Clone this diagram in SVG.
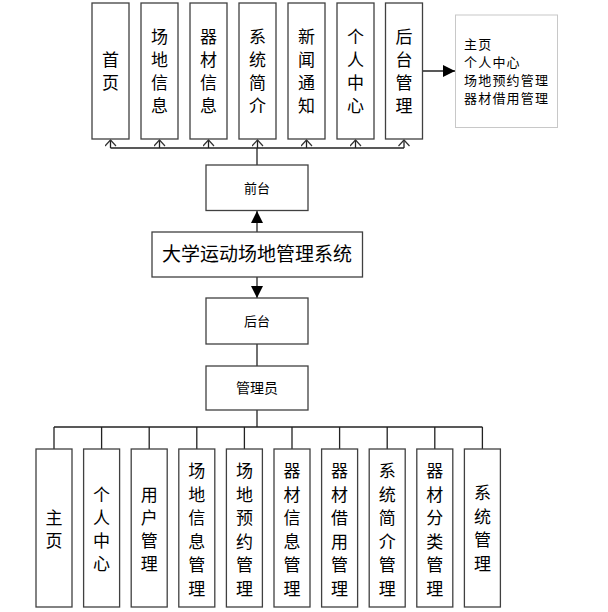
<svg xmlns="http://www.w3.org/2000/svg" width="608" height="612" viewBox="0 0 608 612">
<defs>
<style>
.b{fill:#fff;stroke:#404040;stroke-width:1.3}
.t{font-family:"Noto Sans CJK SC",sans-serif;fill:#000;text-anchor:middle}
.v{font-size:17px}
.c{stroke:#222;stroke-width:1.3;fill:none}
</style>
<marker id="open" markerWidth="10" markerHeight="12" refX="9" refY="6" orient="auto" markerUnits="userSpaceOnUse" viewBox="0 0 10 12">
<path d="M3,0.5 L9,6 L3,11.5" fill="none" stroke="#333" stroke-width="1.2"/>
</marker>
<marker id="fill" markerWidth="14" markerHeight="14" refX="12" refY="6" orient="auto" markerUnits="userSpaceOnUse" viewBox="0 0 14 12">
<path d="M0,0 L12,6 L0,12 Z" fill="#000"/>
</marker>
</defs>
<rect width="608" height="612" fill="#fff"/>
<g id="connectors">
<path class="c" d="M110.5,148 H404"/>
<path class="c" d="M110.5,148 V140" marker-end="url(#open)"/>
<path class="c" d="M159.5,148 V140" marker-end="url(#open)"/>
<path class="c" d="M208.5,148 V140" marker-end="url(#open)"/>
<path class="c" d="M257.5,148 V140" marker-end="url(#open)"/>
<path class="c" d="M306.5,148 V140" marker-end="url(#open)"/>
<path class="c" d="M355.5,148 V140" marker-end="url(#open)"/>
<path class="c" d="M404,148 V140" marker-end="url(#open)"/>
<path class="c" d="M257,148 V165" stroke-width="2"/>
<path class="c" d="M422,71 H455" marker-end="url(#fill)"/>
<path class="c" d="M257,232 V211" marker-end="url(#fill)"/>
<path class="c" d="M257,277 V298" marker-end="url(#fill)"/>
<path class="c" d="M257,344 V366"/>
<path class="c" d="M257,410 V427"/>
<path class="c" d="M54,427 H482.4"/>
<path class="c" d="M54,427 V449 M101.6,427 V449 M149.2,427 V449 M196.8,427 V449 M244.4,427 V449 M292,427 V449 M339.6,427 V449 M387.2,427 V449 M434.8,427 V449 M482.4,427 V449"/>
</g>
<g id="n-shouye"><rect class="b" x="92" y="3" width="37" height="136"/><text class="t v" x="110.5"><tspan x="110.5" y="66">首</tspan><tspan x="110.5" y="89">页</tspan></text></g>
<g id="n-cdxx"><rect class="b" x="141" y="3" width="37" height="136"/><text class="t v"><tspan x="159.5" y="43">场</tspan><tspan x="159.5" y="66">地</tspan><tspan x="159.5" y="89">信</tspan><tspan x="159.5" y="112">息</tspan></text></g>
<g id="n-qcxx"><rect class="b" x="190" y="3" width="37" height="136"/><text class="t v"><tspan x="208.5" y="43">器</tspan><tspan x="208.5" y="66">材</tspan><tspan x="208.5" y="89">信</tspan><tspan x="208.5" y="112">息</tspan></text></g>
<g id="n-xtjj"><rect class="b" x="239" y="3" width="37" height="136"/><text class="t v"><tspan x="257.5" y="43">系</tspan><tspan x="257.5" y="66">统</tspan><tspan x="257.5" y="89">简</tspan><tspan x="257.5" y="112">介</tspan></text></g>
<g id="n-xwtz"><rect class="b" x="288" y="3" width="37" height="136"/><text class="t v"><tspan x="306.5" y="43">新</tspan><tspan x="306.5" y="66">闻</tspan><tspan x="306.5" y="89">通</tspan><tspan x="306.5" y="112">知</tspan></text></g>
<g id="n-grzx"><rect class="b" x="337" y="3" width="37" height="136"/><text class="t v"><tspan x="355.5" y="43">个</tspan><tspan x="355.5" y="66">人</tspan><tspan x="355.5" y="89">中</tspan><tspan x="355.5" y="112">心</tspan></text></g>
<g id="n-htgl"><rect class="b" x="385.5" y="3" width="37" height="136"/><text class="t v"><tspan x="404" y="43">后</tspan><tspan x="404" y="66">台</tspan><tspan x="404" y="89">管</tspan><tspan x="404" y="112">理</tspan></text></g>
<g id="n-note"><rect x="455.5" y="15" width="102" height="112.5" fill="#fff" stroke="#c8c8c8" stroke-width="1"/><text class="t" style="font-size:13px;text-anchor:start;letter-spacing:1.2px"><tspan x="464" y="49">主页</tspan><tspan x="464" y="67">个人中心</tspan><tspan x="464" y="85">场地预约管理</tspan><tspan x="464" y="103">器材借用管理</tspan></text></g>
<g id="n-qiantai"><rect class="b" x="206" y="165" width="102" height="45.5"/><text class="t" x="257" y="193" style="font-size:13px">前台</text></g>
<g id="n-main"><rect class="b" x="152" y="232" width="210.5" height="45"/><text class="t" x="257" y="261" style="font-size:19px">大学运动场地管理系统</text></g>
<g id="n-houtai"><rect class="b" x="206" y="298" width="102" height="46"/><text class="t" x="257" y="326" style="font-size:13px">后台</text></g>
<g id="n-admin"><rect class="b" x="206" y="366" width="102" height="44"/><text class="t" x="257" y="393" style="font-size:14px">管理员</text></g>
<g id="b-zhuye"><rect class="b" x="36" y="449" width="36" height="158"/><text class="t v"><tspan x="54" y="524">主</tspan><tspan x="54" y="547">页</tspan></text></g>
<g id="b-grzx"><rect class="b" x="83.6" y="449" width="36" height="158"/><text class="t v"><tspan x="101.6" y="501">个</tspan><tspan x="101.6" y="524">人</tspan><tspan x="101.6" y="547">中</tspan><tspan x="101.6" y="570">心</tspan></text></g>
<g id="b-yhgl"><rect class="b" x="131.2" y="449" width="36" height="158"/><text class="t v"><tspan x="149.2" y="501">用</tspan><tspan x="149.2" y="524">户</tspan><tspan x="149.2" y="547">管</tspan><tspan x="149.2" y="570">理</tspan></text></g>
<g id="b-cdxx"><rect class="b" x="178.8" y="449" width="36" height="158"/><text class="t v"><tspan x="196.8" y="477">场</tspan><tspan x="196.8" y="500.5">地</tspan><tspan x="196.8" y="524">信</tspan><tspan x="196.8" y="547.5">息</tspan><tspan x="196.8" y="571">管</tspan><tspan x="196.8" y="594.5">理</tspan></text></g>
<g id="b-cdyy"><rect class="b" x="226.4" y="449" width="36" height="158"/><text class="t v"><tspan x="244.4" y="477">场</tspan><tspan x="244.4" y="500.5">地</tspan><tspan x="244.4" y="524">预</tspan><tspan x="244.4" y="547.5">约</tspan><tspan x="244.4" y="571">管</tspan><tspan x="244.4" y="594.5">理</tspan></text></g>
<g id="b-qcxx"><rect class="b" x="274" y="449" width="36" height="158"/><text class="t v"><tspan x="292" y="477">器</tspan><tspan x="292" y="500.5">材</tspan><tspan x="292" y="524">信</tspan><tspan x="292" y="547.5">息</tspan><tspan x="292" y="571">管</tspan><tspan x="292" y="594.5">理</tspan></text></g>
<g id="b-qcjy"><rect class="b" x="321.6" y="449" width="36" height="158"/><text class="t v"><tspan x="339.6" y="477">器</tspan><tspan x="339.6" y="500.5">材</tspan><tspan x="339.6" y="524">借</tspan><tspan x="339.6" y="547.5">用</tspan><tspan x="339.6" y="571">管</tspan><tspan x="339.6" y="594.5">理</tspan></text></g>
<g id="b-xtjj"><rect class="b" x="369.2" y="449" width="36" height="158"/><text class="t v"><tspan x="387.2" y="477">系</tspan><tspan x="387.2" y="500.5">统</tspan><tspan x="387.2" y="524">简</tspan><tspan x="387.2" y="547.5">介</tspan><tspan x="387.2" y="571">管</tspan><tspan x="387.2" y="594.5">理</tspan></text></g>
<g id="b-qcfl"><rect class="b" x="416.8" y="449" width="36" height="158"/><text class="t v"><tspan x="434.8" y="477">器</tspan><tspan x="434.8" y="500.5">材</tspan><tspan x="434.8" y="524">分</tspan><tspan x="434.8" y="547.5">类</tspan><tspan x="434.8" y="571">管</tspan><tspan x="434.8" y="594.5">理</tspan></text></g>
<g id="b-xtgl"><rect class="b" x="464.4" y="449" width="36" height="158"/><text class="t v"><tspan x="482.4" y="499">系</tspan><tspan x="482.4" y="522.5">统</tspan><tspan x="482.4" y="546">管</tspan><tspan x="482.4" y="569.5">理</tspan></text></g>
</svg>
